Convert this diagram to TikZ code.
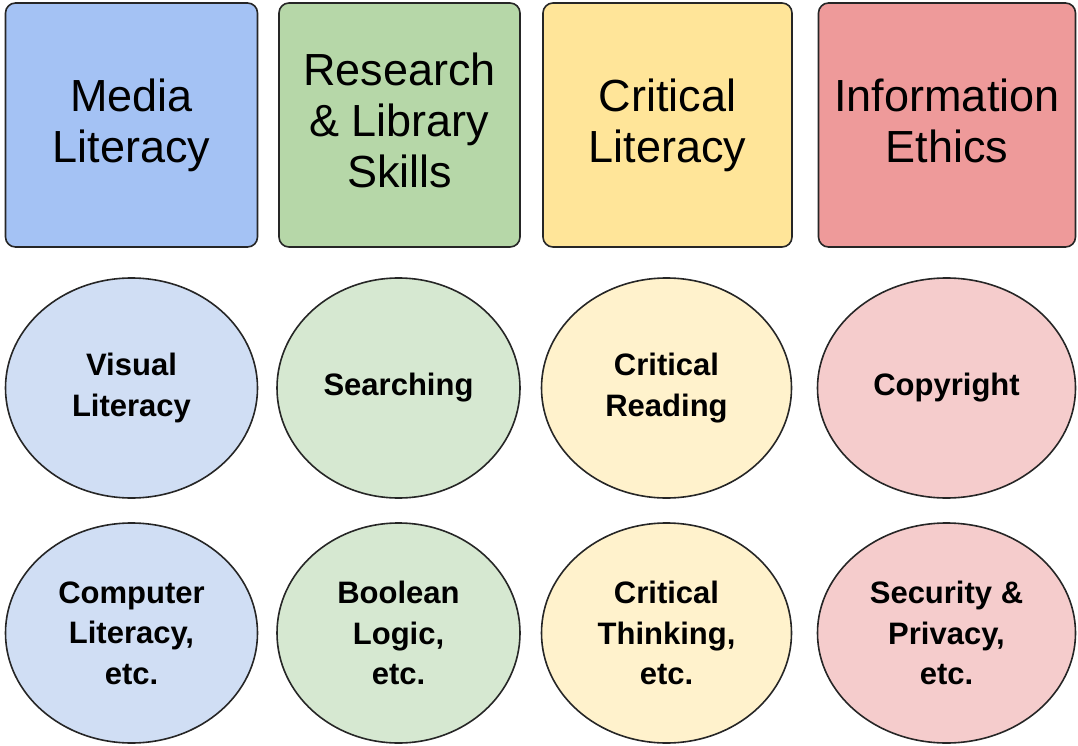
\documentclass[tikz,border=0pt]{standalone}
\usepackage{fontspec}
\setmainfont{Liberation Sans}
\usetikzlibrary{shapes.geometric, positioning}

\definecolor{mediablue}{HTML}{A4C2F4}
\definecolor{researchgreen}{HTML}{B6D7A8}
\definecolor{criticalyellow}{HTML}{FFE599}
\definecolor{ethicsred}{HTML}{EE9A9A}
\definecolor{mediablueL}{HTML}{D0DEF4}
\definecolor{researchgreenL}{HTML}{D6E8D1}
\definecolor{criticalyellowL}{HTML}{FFF2CC}
\definecolor{ethicsredL}{HTML}{F5CCCC}

\begin{document}
\begin{tikzpicture}[
			x=1pt, y=1pt,
			every node/.style={draw=black!85, line width=1.6pt, align=center, inner sep=0pt},
			topic/.style={rounded corners=10pt, minimum height=244pt,
				font=\fontsize{45}{51}\selectfont},
			subtopic/.style={ellipse, minimum height=220pt,
				font=\fontsize{31}{40.5}\selectfont\bfseries}
			]
			\useasboundingbox (0,0) rectangle (1078,-746);
			
			% Topics
			\node[topic, fill=mediablue, minimum width=252pt] (media) at (131.5,-125) {Media\\Literacy};
			\node[topic, fill=researchgreen, minimum width=241pt] (research) at (399.5,-125) {Research\\\& Library\\Skills\vphantom{y}};
			\node[topic, fill=criticalyellow, minimum width=249pt] (critical) at (667.5,-125) {Critical\\Literacy};
			\node[topic, fill=ethicsred, minimum width=257pt] (ethics) at (947,-125) {Information\\Ethics\vphantom{y}};
			
			% First row of ellipses
			\node[subtopic, fill=mediablueL, minimum width=252pt] (visual) at (131.5,-388) {Visual\\Literacy};
			\node[subtopic, fill=researchgreenL, minimum width=243pt] (searching) at (398.5,-388) {Searching};
			\node[subtopic, fill=criticalyellowL, minimum width=250pt] (reading) at (666.5,-388) {Critical\\Reading};
			\node[subtopic, fill=ethicsredL, minimum width=258pt] (copyright) at (946.5,-388) {Copyright};
			
			% Second row of ellipses
			\node[subtopic, fill=mediablueL, minimum width=252pt] (computer) at (131.5,-633) {Computer\\Literacy,\\etc.};
			\node[subtopic, fill=researchgreenL, minimum width=243pt] (boolean) at (398.5,-633) {Boolean\\Logic,\\etc.};
			\node[subtopic, fill=criticalyellowL, minimum width=250pt] (thinking) at (666.5,-633) {Critical\\Thinking,\\etc.};
			\node[subtopic, fill=ethicsredL, minimum width=258pt] (security) at (946.5,-633) {Security \&\\Privacy,\\etc.};
		\end{tikzpicture}
\end{document}
